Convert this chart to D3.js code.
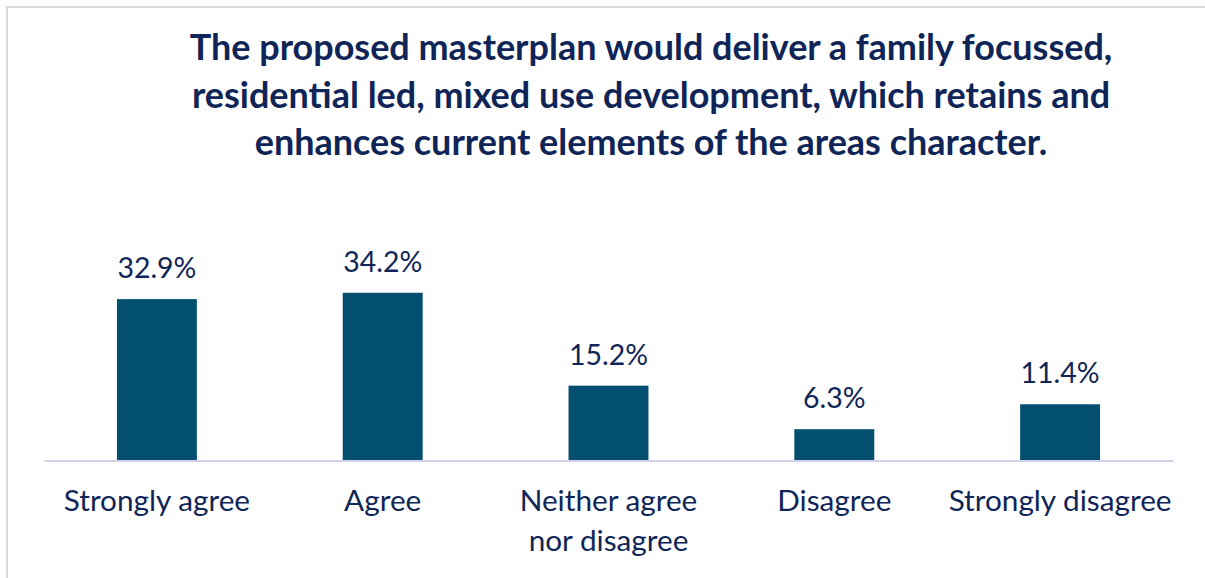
<!DOCTYPE html>
<html>
<head>
<meta charset="utf-8">
<script src="https://cdn.jsdelivr.net/npm/d3@7"></script>
<style>
  html, body { margin: 0; padding: 0; background: #ffffff; }
  svg { display: block; }
</style>
</head>
<body>
<svg id="chart" width="1205" height="578"></svg>
<script>
// Survey responses
const categories = ["Strongly agree", "Agree", "Neither agree nor disagree", "Disagree", "Strongly disagree"];
const categoryLines = [["Strongly agree"], ["Agree"], ["Neither agree", "nor disagree"], ["Disagree"], ["Strongly disagree"]];
const values = [32.9, 34.2, 15.2, 6.3, 11.4];
const titleLines = [
  "The proposed masterplan would deliver a family focussed,",
  "residential led, mixed use development, which retains and",
  "enhances current elements of the areas character."
];

const W = 1205, H = 578;
const svg = d3.select("#chart");
const FONT = "Lato, 'Open Sans', sans-serif";
const NAVY = "#0f2557";

// frame
svg.append("rect")
  .attr("x", 7).attr("y", 7)
  .attr("width", W + 10).attr("height", H + 10)
  .attr("fill", "none").attr("stroke", "#d9d9d9").attr("stroke-width", 2);

const plot = { left: 44, right: 1173, base: 460 };

const x = d3.scaleBand()
  .domain(categories)
  .range([plot.left, plot.right])
  .paddingInner(0.646).paddingOuter(0.323);

const y = d3.scaleLinear()
  .domain([0, 40])
  .range([plot.base, plot.base - 4.89 * 40]);

// helper: size text so a reference string spans a given width
function fitSize(str, weight, target, start) {
  const t = svg.append("text").attr("font-family", FONT).attr("font-weight", weight)
    .attr("font-size", start).text(str);
  const w = t.node().getComputedTextLength();
  t.remove();
  return start * target / w;
}

// title
const titleSize = fitSize(titleLines[0], 700, 923, 36);
svg.append("g").selectAll("text")
  .data(titleLines)
  .join("text")
  .attr("x", 651)
  .attr("y", (d, i) => 60 + i * 47.5)
  .attr("text-anchor", "middle")
  .attr("font-family", FONT)
  .attr("font-weight", 700)
  .attr("font-size", titleSize)
  .attr("fill", NAVY)
  .text(d => d);

// bars
svg.append("g").selectAll("rect")
  .data(values)
  .join("rect")
  .attr("x", (d, i) => x(categories[i]))
  .attr("width", x.bandwidth())
  .attr("y", d => y(d))
  .attr("height", d => y(0) - y(d))
  .attr("fill", "#034f70");

// baseline axis
const axis = d3.axisBottom(x).tickSize(0).tickFormat("");
const axisG = svg.append("g").attr("transform", `translate(0,${plot.base + 0.5})`).call(axis);
axisG.select(".domain").attr("stroke", "#d4d0ea").attr("stroke-width", 2);

// value labels
const valueSize = fitSize("32.9%", 400, 79, 28);
svg.append("g").selectAll("text")
  .data(values)
  .join("text")
  .attr("x", (d, i) => x(categories[i]) + x.bandwidth() / 2)
  .attr("y", d => y(d) - 21)
  .attr("text-anchor", "middle")
  .attr("font-family", FONT)
  .attr("font-size", valueSize)
  .attr("fill", NAVY)
  .text(d => d.toFixed(1) + "%");

// category labels
const catSize = fitSize("Strongly disagree", 400, 223, 28);
const catG = svg.append("g").selectAll("text")
  .data(categoryLines)
  .join("text")
  .attr("x", (d, i) => x(categories[i]) + x.bandwidth() / 2)
  .attr("y", 511)
  .attr("text-anchor", "middle")
  .attr("font-family", FONT)
  .attr("font-size", catSize)
  .attr("fill", NAVY);
catG.selectAll("tspan")
  .data(d => d)
  .join("tspan")
  .attr("x", function () { return d3.select(this.parentNode).attr("x"); })
  .attr("dy", (d, i) => i === 0 ? 0 : 40)
  .text(d => d);
</script>
</body>
</html>
